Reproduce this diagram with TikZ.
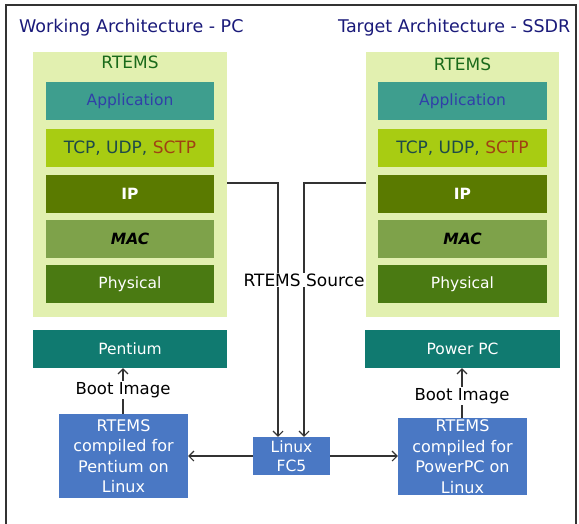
\documentclass[tikz,border=0pt]{standalone}
\usepackage{fontspec}
\setmainfont{DejaVu Sans}
\usetikzlibrary{arrows.meta,calc}
\definecolor{bggreen}{HTML}{E2F0B0}
\definecolor{appteal}{HTML}{3E9E8E}
\definecolor{apptext}{HTML}{3040A8}
\definecolor{tcpgreen}{HTML}{A8CC12}
\definecolor{tcptext}{HTML}{1E4A48}
\definecolor{sctptext}{HTML}{A04212}
\definecolor{ipgreen}{HTML}{5A7A00}
\definecolor{macgreen}{HTML}{7EA24A}
\definecolor{phygreen}{HTML}{4A7A12}
\definecolor{cputeal}{HTML}{107A70}
\definecolor{boxblue}{HTML}{4A78C4}
\definecolor{titleblue}{HTML}{1A1A7A}
\definecolor{rtemsgreen}{HTML}{1A6A1A}
\definecolor{framegray}{HTML}{333333}
\tikzset{
  x=1pt,y=-1pt,
  bgpanel/.style={fill=bggreen,draw=none,inner sep=0pt},
  layer/.style={draw=none,inner sep=0pt,minimum height=38pt,font=\fontsize{15.5}{17}\selectfont},
  cpubox/.style={fill=cputeal,draw=none,inner sep=0pt,minimum width=194pt,minimum height=38pt,text=white,font=\fontsize{15.5}{17}\selectfont},
  bluebox/.style={fill=boxblue,draw=none,inner sep=0pt,text=white,align=center,font=\fontsize{16}{20.5}\selectfont},
  conn/.style={draw=framegray,line width=1.1pt,-{Straight Barb[length=5pt,width=10pt]}},
  lbl/.style={fill=white,inner sep=1pt,font=\fontsize{16.5}{18}\selectfont},
  ttl/.style={text=titleblue,font=\fontsize{17.5}{19}\selectfont,anchor=west,inner sep=0pt},
}
\begin{document}
\begin{tikzpicture}
\useasboundingbox (0,0) rectangle (579,523);
\fill[white] (0,0) rectangle (579,523);
% frame
\draw[framegray,line width=1.2pt] (6,524) -- (6,5) -- (576,5) -- (576,524);
% titles
\begin{scope}
\clip (0,0) rectangle (575,60);
\node[ttl] (t1) at (19,28) {Working Architecture - PC};
\node[ttl] (t2) at (338,28) {Target Architecture - SSDR};
\end{scope}
% left column
\node[bgpanel,minimum width=194pt,minimum height=265pt] (bgL) at (130,184.5) {};
\node[text=rtemsgreen,font=\fontsize{17}{18}\selectfont] (rtL) at (130,62) {RTEMS};
\node[layer,fill=appteal,minimum width=168pt,text=apptext] (appL) at (130,101) {Application};
\node[layer,fill=tcpgreen,minimum width=168pt,text=tcptext,font=\fontsize{17}{18}\selectfont] (tcpL) at (130,148) {TCP, UDP, \textcolor{sctptext}{SCTP}};
\node[layer,fill=ipgreen,minimum width=168pt,text=white,font=\fontsize{15.5}{17}\selectfont\bfseries] (ipL) at (130,193.5) {IP};
\node[layer,fill=macgreen,minimum width=168pt,text=black,font=\fontsize{15.5}{17}\selectfont\bfseries\itshape] (macL) at (130,239) {MAC};
\node[layer,fill=phygreen,minimum width=168pt,text=white] (phyL) at (130,284) {Physical};
\node[cpubox] (cpuL) at (130,349) {Pentium};
\node[bluebox,minimum width=129pt,minimum height=84pt] (compL) at (123.5,456) {RTEMS\\compiled for\\Pentium on\\Linux};
% right column
\node[bgpanel,minimum width=193pt,minimum height=265pt] (bgR) at (462.5,184.5) {};
\node[text=rtemsgreen,font=\fontsize{17}{18}\selectfont] (rtR) at (462.5,64) {RTEMS};
\node[layer,fill=appteal,minimum width=169pt,text=apptext] (appR) at (462.5,101) {Application};
\node[layer,fill=tcpgreen,minimum width=169pt,text=tcptext,font=\fontsize{17}{18}\selectfont] (tcpR) at (462.5,148) {TCP, UDP, \textcolor{sctptext}{SCTP}};
\node[layer,fill=ipgreen,minimum width=169pt,text=white,font=\fontsize{15.5}{17}\selectfont\bfseries] (ipR) at (462.5,193.5) {IP};
\node[layer,fill=macgreen,minimum width=169pt,text=black,font=\fontsize{15.5}{17}\selectfont\bfseries\itshape] (macR) at (462.5,239) {MAC};
\node[layer,fill=phygreen,minimum width=169pt,text=white] (phyR) at (462.5,284) {Physical};
\node[cpubox,minimum width=195pt] (cpuR) at (462.5,349) {Power PC};
\node[bluebox,minimum width=129pt,minimum height=77pt] (compR) at (462.5,456.5) {RTEMS\\compiled for\\PowerPC on\\Linux};
% linux
\node[bluebox,minimum width=77pt,minimum height=38pt,font=\fontsize{15.5}{19}\selectfont] (linux) at (291.5,456) {Linux\\FC5};
% source lines
\coordinate (srcL) at (227,183);
\coordinate (srcR) at (366,183);
\draw[conn] (srcL) -| ([xshift=-13.5pt]linux.north);
\draw[conn] (srcR) -| ([xshift=12.5pt]linux.north);
\node[lbl,font=\fontsize{17}{18}\selectfont] (srcLabel) at (304,280) {RTEMS Source};
% linux to compiled
\draw[conn] (linux.west) -- (linux.west -| compL.east);
\draw[conn] (linux.east) -- (linux.east -| compR.west);
% boot images
\draw[conn] (compL.north -| 123,0) -- (cpuL.south -| 123,0) node[lbl,pos=0.5,yshift=1pt] (bootL) {Boot Image};
\draw[conn] (compR.north -| 462,0) -- (cpuR.south -| 462,0) node[lbl,pos=0.5,yshift=-3pt] (bootR) {Boot Image};
\end{tikzpicture}
\end{document}
